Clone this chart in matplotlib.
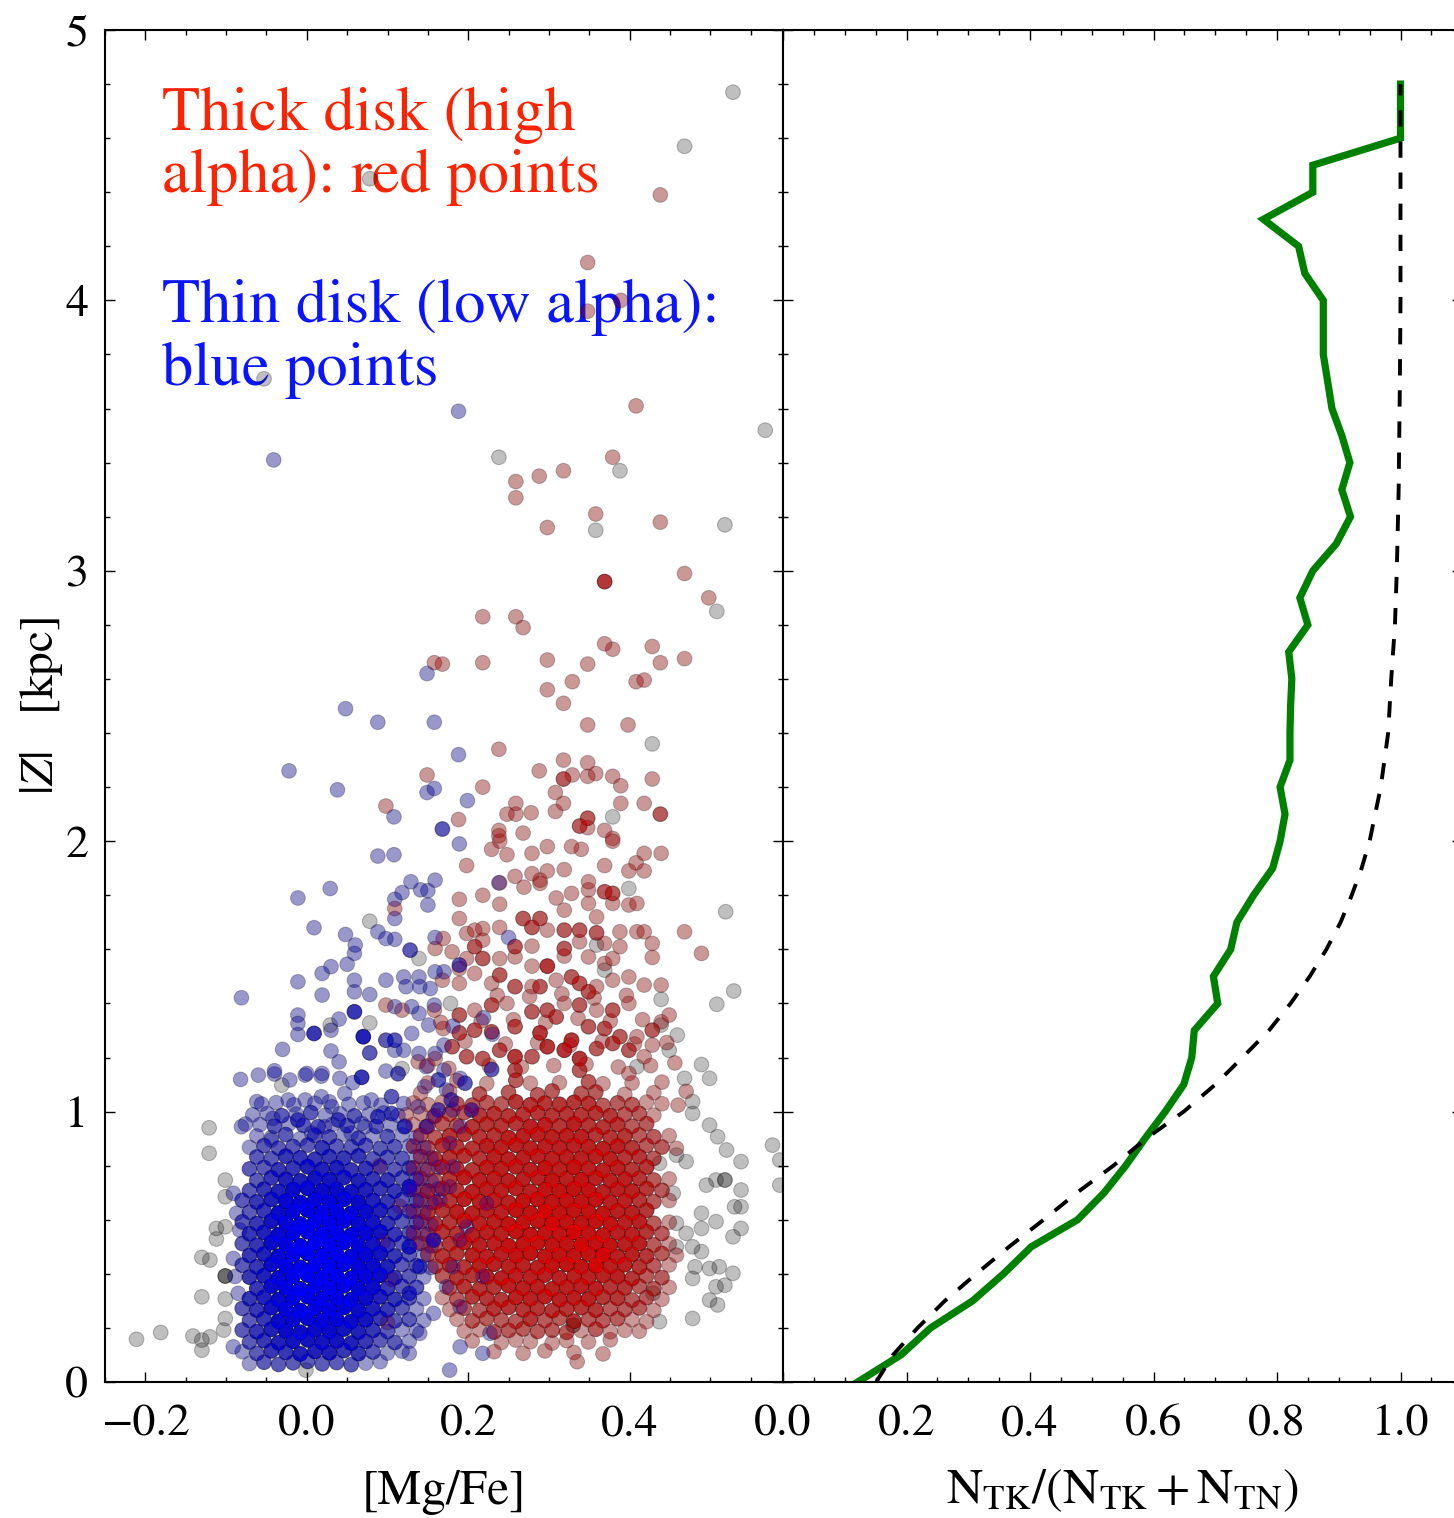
import numpy as np
import matplotlib
matplotlib.use("Agg")
import matplotlib.pyplot as plt
from matplotlib.ticker import MultipleLocator

plt.rcParams['font.family'] = ['STIXGeneral', 'DejaVu Sans']
plt.rcParams['mathtext.fontset'] = 'stix'

# ---------------- left panel: [Mg/Fe] vs |Z| ----------------
# n = number of stars stacked at (about) the same place (read from colour depth)

# thin disk (low alpha) -> blue
thin_x = [
    0.188, -0.041, 0.149, 0.048, 0.088, 0.158, 0.188, -0.022, 0.038, 0.149, 0.158, 0.199, 0.108, 0.168,
    0.189, 0.088, 0.108, 0.129, 0.159, 0.118, 0.141, 0.150, 0.029, -0.011,
    0.109, 0.238, 0.150, 0.109, 0.009, 0.048, 0.088, 0.098, 0.109, 0.060,
    0.059, 0.159, 0.250, 0.050, 0.030, 0.019, -0.011, 0.059, 0.098, 0.120,
    0.139, 0.159, 0.170, 0.189, 0.128, 0.140, 0.153, 0.123, 0.078, 0.059,
    0.019, -0.081, 0.109, 0.130, 0.158, 0.139, 0.059, 0.040, -0.011, -0.011,
    0.009, -0.011, 0.030, 0.070, 0.098, 0.109, 0.130, 0.151, 0.181, 0.219,
    0.230, -0.030, 0.030, 0.040, 0.078, 0.109, 0.120, 0.139, 0.159, 0.170,
    -0.040, 0.000, 0.019, 0.098, 0.113, 0.148, 0.170, 0.229,
    -0.082, -0.060, -0.040, -0.021, -0.002, 0.018, 0.041, 0.057, 0.068, -0.062,
    -0.042, -0.023, -0.002, 0.018, 0.031, 0.047, 0.080, 0.105, 0.138, 0.146,
    0.163, 0.179, 0.196, 0.204, 0.163, -0.081,
    -0.011, 0.006, 0.022, 0.039, 0.055, 0.072, 0.088, 0.105, 0.121, -0.044,
    -0.091, -0.087, -0.083, -0.091, -0.089, -0.085, -0.091,
    0.190, 0.173, 0.181, 0.157, 0.148, 0.190, 0.177, 0.181, 0.177, 0.127,
    0.165, 0.223, 0.198, 0.157, 0.190, 0.127, 0.140, 0.181, 0.218, 0.173,
    0.127, 0.157, 0.190, 0.140, 0.227, 0.190, 0.127, 0.218, 0.177,
    -0.056, -0.038, -0.016, 0.010, 0.028, 0.052, 0.070, 0.092, 0.120,
    -0.067, -0.049, -0.031, -0.013, 0.005, 0.023, 0.041, 0.059, 0.077, 0.095, 0.113,
    -0.058, -0.040, -0.022, -0.004, 0.014, 0.032, 0.050, 0.068, 0.086, 0.104, 0.122, -0.076,
    -0.062, -0.044, -0.026, -0.008, 0.010, 0.028, 0.046, 0.064, 0.082, 0.100, 0.118, 0.136,
    -0.071, -0.053, -0.035, -0.017, 0.001, 0.019, 0.037, 0.055, 0.073, 0.091, 0.109, 0.127, 0.145,
    -0.062, -0.044, -0.026, -0.008, 0.010, 0.028, 0.046, 0.064, 0.082, 0.100, 0.118, 0.136, 0.154,
    -0.071, -0.053, -0.035, -0.017, 0.001, 0.019, 0.037, 0.055, 0.073, 0.091, 0.109, 0.127, 0.145, 0.163,
    -0.062, -0.044, -0.026, -0.008, 0.010, 0.028, 0.046, 0.064, 0.082, 0.100, 0.118, 0.136, 0.154,
    -0.071, -0.053, -0.035, -0.017, 0.001, 0.019, 0.037, 0.055, 0.073, 0.091, 0.109, 0.127, 0.145, 0.163,
    -0.080, -0.062, -0.044, -0.026, -0.008, 0.010, 0.028, 0.046, 0.064, 0.082, 0.100, 0.118, 0.136, 0.154,
    -0.071, -0.053, -0.035, -0.017, 0.001, 0.019, 0.037, 0.055, 0.073, 0.091, 0.109, 0.127, 0.145,
    -0.080, -0.062, -0.044, -0.026, -0.008, 0.010, 0.028, 0.046, 0.064, 0.082, 0.100, 0.118, 0.136, 0.154,
    -0.071, -0.053, -0.035, -0.017, 0.001, 0.019, 0.037, 0.055, 0.073, 0.091, 0.109, 0.127, 0.145,
    -0.080, -0.062, -0.044, -0.026, -0.008, 0.010, 0.028, 0.046, 0.064, 0.082, 0.100, 0.118, 0.136, 0.154,
    -0.071, -0.053, -0.035, -0.017, 0.001, 0.019, 0.037, 0.055, 0.073, 0.091, 0.109, 0.127, 0.145,
    -0.080, -0.062, -0.044, -0.026, -0.008, 0.010, 0.028, 0.046, 0.064, 0.082, 0.100, 0.118, 0.136, 0.154,
    -0.071, -0.053, -0.035, -0.017, 0.001, 0.019, 0.037, 0.055, 0.073, 0.091, 0.109, 0.127, 0.145,
    -0.062, -0.044, -0.026, -0.008, 0.010, 0.028, 0.046, 0.064, 0.082, 0.100, 0.118, 0.136,
    -0.071, -0.053, -0.035, -0.017, 0.001, 0.019, 0.037, 0.055, 0.073, 0.091, 0.109, 0.127, 0.145,
    -0.080, -0.062, -0.044, -0.026, -0.008, 0.010, 0.028, 0.046, 0.064, 0.082, 0.100, 0.118, 0.136,
    -0.071, -0.053, -0.035, -0.017, 0.001, 0.019, 0.037, 0.055, 0.073, 0.091, 0.109, 0.127, 0.145,
    -0.080, -0.062, -0.044, -0.026, -0.008, 0.010, 0.028, 0.046, 0.064, 0.082, 0.100, 0.118, 0.136,
    -0.071, -0.053, -0.035, -0.017, 0.001, 0.019, 0.037, 0.055, 0.073, 0.091, 0.109, 0.127,
    -0.080, -0.062, -0.044, -0.026, -0.008, 0.010, 0.028, 0.046, 0.064, 0.082, 0.100, 0.118,
    -0.071, -0.053, -0.035, -0.017, 0.001, 0.019, 0.037, 0.055, 0.073, 0.091,
]
thin_z = [
    3.59, 3.41, 2.62, 2.49, 2.44, 2.44, 2.32, 2.26, 2.19, 2.18, 2.195, 2.15, 2.09, 2.045,
    1.99, 1.945, 1.95, 1.85, 1.856, 1.81, 1.82, 1.817, 1.825, 1.79,
    1.785, 1.846, 1.764, 1.714, 1.68, 1.655, 1.665, 1.64, 1.637, 1.616,
    1.585, 1.644, 1.644, 1.545, 1.536, 1.511, 1.48, 1.486, 1.486, 1.498,
    1.498, 1.517, 1.517, 1.542, 1.597, 1.462, 1.455, 1.462, 1.433, 1.443,
    1.431, 1.421, 1.388, 1.388, 1.394, 1.363, 1.369, 1.342, 1.357, 1.326,
    1.289, 1.285, 1.301, 1.277, 1.264, 1.264, 1.289, 1.32, 1.316, 1.347,
    1.286, 1.23, 1.224, 1.184, 1.217, 1.227, 1.227, 1.215, 1.215, 1.246,
    1.151, 1.141, 1.141, 1.15, 1.14, 1.166, 1.153, 1.156,
    1.119, 1.135, 1.139, 1.117, 1.135, 1.131, 1.123, 1.107, 1.127, 1.037,
    0.975, 1.043, 1.043, 1.055, 1.018, 1.067, 1.043, 1.055, 1.018, 1.092,
    1.117, 1.043, 1.105, 1.006, 1.006, 0.944,
    0.969, 0.920, 0.944, 0.969, 0.920, 0.944, 0.981, 0.993, 0.944, 0.895,
    0.698, 0.624, 0.562, 0.457, 0.390, 0.328, 0.130,
    1.123, 1.080, 1.006, 0.981, 0.944, 0.944, 0.883, 0.796, 0.722, 0.722,
    0.673, 0.660, 0.574, 0.525, 0.525, 0.500, 0.426, 0.426, 0.390, 0.352,
    0.328, 0.254, 0.278, 0.180, 0.180, 0.130, 0.106, 0.106, 0.044,
    1.028, 1.033, 1.025, 1.031, 1.036, 1.027, 1.032, 1.024, 1.030,
    0.988, 0.993, 0.985, 0.991, 0.996, 0.987, 0.992, 0.984, 0.990, 0.995, 0.986,
    0.952, 0.946, 0.955, 0.949, 0.944, 0.953, 0.948, 0.956, 0.945, 0.951, 0.947, 0.954,
    0.910, 0.904, 0.915, 0.900, 0.912, 0.906, 0.917, 0.902, 0.911, 0.908, 0.914, 0.905,
    0.868, 0.874, 0.865, 0.871, 0.876, 0.866, 0.872, 0.869, 0.875, 0.864, 0.870, 0.873, 0.867,
    0.832, 0.826, 0.835, 0.829, 0.824, 0.833, 0.828, 0.836, 0.825, 0.831, 0.827, 0.834, 0.829,
    0.788, 0.793, 0.785, 0.791, 0.796, 0.787, 0.792, 0.784, 0.790, 0.795, 0.786, 0.791, 0.788, 0.794,
    0.746, 0.755, 0.749, 0.744, 0.753, 0.748, 0.756, 0.745, 0.751, 0.747, 0.754, 0.750, 0.743,
    0.708, 0.713, 0.705, 0.711, 0.716, 0.707, 0.712, 0.704, 0.710, 0.715, 0.706, 0.711, 0.708, 0.714,
    0.672, 0.666, 0.675, 0.669, 0.664, 0.673, 0.668, 0.676, 0.665, 0.671, 0.667, 0.674, 0.670, 0.663,
    0.628, 0.633, 0.625, 0.631, 0.636, 0.627, 0.632, 0.624, 0.630, 0.635, 0.626, 0.631, 0.628,
    0.592, 0.586, 0.595, 0.589, 0.584, 0.593, 0.588, 0.596, 0.585, 0.591, 0.587, 0.594, 0.590, 0.583,
    0.548, 0.553, 0.545, 0.551, 0.556, 0.547, 0.552, 0.544, 0.550, 0.555, 0.546, 0.551, 0.548,
    0.512, 0.506, 0.515, 0.509, 0.504, 0.513, 0.508, 0.516, 0.505, 0.511, 0.507, 0.514, 0.510, 0.503,
    0.468, 0.473, 0.465, 0.471, 0.476, 0.467, 0.472, 0.464, 0.470, 0.475, 0.466, 0.471, 0.468,
    0.432, 0.426, 0.435, 0.429, 0.424, 0.433, 0.428, 0.436, 0.425, 0.431, 0.427, 0.434, 0.430, 0.423,
    0.388, 0.393, 0.385, 0.391, 0.396, 0.387, 0.392, 0.384, 0.390, 0.395, 0.386, 0.391, 0.388,
    0.346, 0.355, 0.349, 0.344, 0.353, 0.348, 0.356, 0.345, 0.351, 0.347, 0.354, 0.350,
    0.308, 0.313, 0.305, 0.311, 0.316, 0.307, 0.312, 0.304, 0.310, 0.315, 0.306, 0.311, 0.308,
    0.272, 0.266, 0.275, 0.269, 0.264, 0.273, 0.268, 0.276, 0.265, 0.271, 0.267, 0.274, 0.270,
    0.228, 0.233, 0.225, 0.231, 0.236, 0.227, 0.232, 0.224, 0.230, 0.235, 0.226, 0.231, 0.228,
    0.192, 0.186, 0.195, 0.189, 0.184, 0.193, 0.188, 0.196, 0.185, 0.191, 0.187, 0.194, 0.190,
    0.148, 0.153, 0.145, 0.151, 0.156, 0.147, 0.152, 0.144, 0.150, 0.155, 0.146, 0.151,
    0.112, 0.106, 0.115, 0.109, 0.104, 0.113, 0.108, 0.116, 0.105, 0.111, 0.107, 0.114,
    0.068, 0.073, 0.065, 0.071, 0.076, 0.067, 0.072, 0.064, 0.070, 0.075,
]
thin_n = [
    1, 1, 1, 1, 1, 1, 1, 1, 1, 1, 1, 1, 1, 2,
    1, 1, 1, 1, 1, 1, 1, 1, 1, 1,
    1, 1, 1, 1, 1, 1, 1, 1, 1, 1,
    1, 1, 1, 1, 1, 1, 1, 1, 1, 1,
    1, 1, 1, 2, 2, 1, 1, 1, 1, 1,
    1, 1, 1, 1, 1, 1, 3, 1, 1, 1,
    3, 1, 1, 4, 2, 2, 1, 1, 1, 1,
    1, 1, 1, 1, 2, 1, 1, 1, 1, 1,
    1, 1, 1, 1, 2, 1, 1, 2,
    1, 1, 1, 1, 1, 1, 1, 1, 3, 1,
    1, 1, 1, 1, 1, 1, 1, 2, 1, 1,
    2, 2, 2, 2, 2, 1,
    2, 1, 1, 2, 1, 1, 2, 2, 2, 1,
    1, 1, 1, 1, 1, 1, 1,
    1, 1, 1, 1, 2, 1, 1, 1, 1, 3,
    1, 1, 1, 3, 1, 3, 2, 1, 1, 1,
    2, 1, 1, 1, 1, 1, 1, 1, 1,
    1, 1, 1, 1, 1, 1, 1, 1, 1,
    1, 1, 2, 1, 2, 1, 1, 2, 1, 1, 1,
    1, 2, 1, 2, 2, 1, 2, 1, 2, 1, 1, 1,
    1, 1, 2, 1, 2, 2, 1, 2, 1, 2, 1, 1,
    1, 2, 2, 2, 2, 3, 2, 2, 2, 2, 2, 1, 1,
    2, 2, 3, 3, 3, 3, 3, 3, 2, 2, 2, 1, 1,
    2, 2, 3, 3, 4, 4, 4, 3, 3, 2, 2, 2, 1, 1,
    2, 3, 4, 4, 5, 5, 4, 4, 3, 3, 2, 2, 1,
    2, 3, 4, 6, 6, 6, 6, 5, 4, 3, 3, 2, 1, 1,
    2, 3, 4, 7, 8, 8, 8, 7, 6, 4, 3, 2, 2, 1,
    2, 3, 6, 8, 9, 10, 9, 8, 6, 4, 3, 2, 1,
    2, 3, 5, 8, 10, 11, 10, 9, 7, 5, 3, 2, 2, 1,
    3, 4, 7, 9, 11, 12, 11, 9, 7, 5, 3, 2, 1,
    2, 3, 6, 9, 11, 12, 12, 10, 8, 5, 3, 2, 1, 1,
    3, 4, 7, 10, 12, 12, 12, 9, 7, 5, 3, 2, 1,
    2, 3, 6, 9, 11, 12, 12, 10, 8, 6, 4, 2, 2, 1,
    3, 4, 7, 10, 12, 12, 11, 9, 8, 6, 3, 2, 1,
    3, 6, 9, 11, 11, 11, 10, 8, 6, 3, 2, 2,
    3, 4, 6, 9, 10, 10, 9, 8, 6, 4, 3, 2, 1,
    2, 3, 5, 8, 9, 9, 9, 8, 6, 4, 3, 2, 1,
    2, 3, 6, 7, 8, 8, 8, 6, 5, 3, 2, 2, 1,
    2, 3, 4, 6, 6, 6, 6, 5, 4, 3, 2, 1, 1,
    2, 3, 4, 5, 5, 5, 5, 4, 3, 2, 2, 1,
    1, 2, 3, 3, 4, 4, 4, 3, 3, 2, 1, 1,
    1, 2, 2, 2, 2, 2, 2, 2, 1, 1,
]

# thick disk (high alpha) -> red
thick_x = [
    0.438, 0.348, 0.389, 0.348, 0.408, 0.379, 0.318, 0.288, 0.259, 0.259,
    0.358, 0.298, 0.438, 0.468, 0.369, 0.498, 0.218, 0.259, 0.268, 0.369,
    0.379, 0.428, 0.158, 0.168, 0.218, 0.298, 0.348, 0.438, 0.468, 0.329,
    0.408, 0.418, 0.298, 0.318, 0.348, 0.398, 0.238, 0.318, 0.348, 0.348,
    0.358, 0.288, 0.329, 0.318, 0.379, 0.149, 0.428, 0.218, 0.389, 0.308,
    0.098, 0.259, 0.318, 0.389, 0.418, 0.438, 0.188, 0.248, 0.259, 0.278,
    0.308, 0.348, 0.338, 0.348, 0.369, 0.238, 0.238, 0.268, 0.379,
    0.229, 0.239, 0.248, 0.279, 0.298, 0.328, 0.340, 0.379, 0.418, 0.439,
    0.198, 0.258, 0.279, 0.289, 0.298, 0.319, 0.349, 0.369, 0.399, 0.408, 0.418,
    0.239, 0.269, 0.289, 0.309, 0.328, 0.349, 0.369, 0.379, 0.399, 0.409,
    0.189, 0.218, 0.239, 0.268, 0.289, 0.319, 0.349, 0.359, 0.379, 0.109,
    0.189, 0.208, 0.218, 0.198, 0.239, 0.279, 0.298, 0.319, 0.338, 0.359, 0.388, 0.409, 0.418, 0.468,
    0.169, 0.159, 0.180, 0.208, 0.218, 0.258, 0.279, 0.319, 0.338, 0.369, 0.388, 0.428, 0.489,
    0.189, 0.198, 0.218, 0.239, 0.258, 0.279, 0.298, 0.319, 0.349, 0.369, 0.379, 0.428,
    0.168, 0.189, 0.208, 0.229, 0.239, 0.258, 0.279, 0.289, 0.309, 0.328, 0.338, 0.349, 0.359, 0.379, 0.399, 0.418, 0.439,
    0.098, 0.118, 0.158, 0.189, 0.208, 0.229, 0.248, 0.279, 0.298, 0.319, 0.338, 0.359, 0.379, 0.399, 0.449,
    0.169, 0.189, 0.208, 0.229, 0.258, 0.289, 0.309, 0.328, 0.349, 0.369, 0.388, 0.409, 0.428, 0.439,
    0.138, 0.159, 0.180, 0.198, 0.218, 0.239, 0.258, 0.279, 0.298, 0.319, 0.338, 0.359, 0.379, 0.399, 0.418, 0.428, 0.258, 0.338, 0.399,
    0.150, 0.176, 0.226, 0.266, 0.306, 0.346, 0.386, 0.426, 0.456,
    0.196, 0.246, 0.286, 0.326, 0.366, 0.406, 0.446,
    0.166, 0.216, 0.256, 0.296, 0.336, 0.376, 0.416,
    0.236, 0.276, 0.316, 0.356, 0.396,
    0.095, 0.105, 0.100, 0.115, 0.090,
    0.150, 0.186, 0.223, 0.259, 0.277, 0.313, 0.349, 0.367, 0.403, 0.440,
    0.141, 0.177, 0.214, 0.250, 0.286, 0.304, 0.340, 0.358, 0.394, 0.430, 0.470,
    0.132, 0.150, 0.168, 0.186, 0.205, 0.223, 0.241, 0.259, 0.277, 0.295, 0.313, 0.331, 0.349, 0.367, 0.385, 0.403, 0.421, 0.440, 0.460,
    0.123, 0.141, 0.159, 0.177, 0.195, 0.214, 0.232, 0.250, 0.268, 0.286, 0.304, 0.322, 0.340, 0.358, 0.376, 0.394, 0.412, 0.430,
    0.132, 0.150, 0.168, 0.186, 0.205, 0.223, 0.241, 0.259, 0.277, 0.295, 0.313, 0.331, 0.349, 0.367, 0.385, 0.403, 0.421,
    0.141, 0.159, 0.177, 0.195, 0.214, 0.232, 0.250, 0.268, 0.286, 0.304, 0.322, 0.340, 0.358, 0.376, 0.394, 0.412, 0.430, 0.449,
    0.132, 0.150, 0.168, 0.186, 0.205, 0.223, 0.241, 0.259, 0.277, 0.295, 0.313, 0.331, 0.349, 0.367, 0.385, 0.403, 0.421, 0.440, 0.458,
    0.141, 0.159, 0.177, 0.195, 0.214, 0.232, 0.250, 0.268, 0.286, 0.304, 0.322, 0.340, 0.358, 0.376, 0.394, 0.412, 0.430,
    0.132, 0.150, 0.168, 0.186, 0.205, 0.223, 0.241, 0.259, 0.277, 0.295, 0.313, 0.331, 0.349, 0.367, 0.385, 0.403, 0.421,
    0.141, 0.159, 0.177, 0.195, 0.214, 0.232, 0.250, 0.268, 0.286, 0.304, 0.322, 0.340, 0.358, 0.376, 0.394, 0.412, 0.430, 0.449,
    0.132, 0.150, 0.168, 0.186, 0.205, 0.223, 0.241, 0.259, 0.277, 0.295, 0.313, 0.331, 0.349, 0.367, 0.385, 0.403, 0.421, 0.440,
    0.141, 0.159, 0.177, 0.195, 0.214, 0.232, 0.250, 0.268, 0.286, 0.304, 0.322, 0.340, 0.358, 0.376, 0.394, 0.412, 0.430, 0.449,
    0.132, 0.150, 0.168, 0.186, 0.205, 0.223, 0.241, 0.259, 0.277, 0.295, 0.313, 0.331, 0.349, 0.367, 0.385, 0.403, 0.421,
    0.141, 0.159, 0.177, 0.195, 0.214, 0.232, 0.250, 0.268, 0.286, 0.304, 0.322, 0.340, 0.358, 0.376, 0.394, 0.412, 0.430, 0.449,
    0.132, 0.150, 0.168, 0.186, 0.205, 0.223, 0.241, 0.259, 0.277, 0.295, 0.313, 0.331, 0.349, 0.367, 0.385, 0.403, 0.421, 0.440,
    0.141, 0.159, 0.177, 0.195, 0.214, 0.232, 0.250, 0.268, 0.286, 0.304, 0.322, 0.340, 0.358, 0.376, 0.394, 0.412, 0.430, 0.449,
    0.150, 0.168, 0.186, 0.205, 0.223, 0.241, 0.259, 0.277, 0.295, 0.313, 0.331, 0.349, 0.367, 0.385, 0.403, 0.421, 0.440, 0.458,
    0.159, 0.177, 0.195, 0.214, 0.232, 0.250, 0.268, 0.286, 0.304, 0.322, 0.340, 0.358, 0.376, 0.394, 0.412, 0.430, 0.449,
    0.168, 0.186, 0.205, 0.223, 0.241, 0.259, 0.277, 0.295, 0.313, 0.331, 0.349, 0.367, 0.385, 0.403, 0.421, 0.440,
    0.177, 0.195, 0.214, 0.232, 0.250, 0.268, 0.286, 0.304, 0.322, 0.340, 0.358, 0.376, 0.394, 0.412, 0.430, 0.449,
    0.168, 0.186, 0.205, 0.223, 0.241, 0.259, 0.277, 0.295, 0.313, 0.331, 0.349, 0.367, 0.385, 0.403, 0.421, 0.440,
    0.177, 0.195, 0.214, 0.232, 0.250, 0.268, 0.286, 0.304, 0.322, 0.340, 0.358, 0.376, 0.394, 0.412, 0.430,
    0.186, 0.205, 0.223, 0.241, 0.259, 0.277, 0.295, 0.313, 0.331, 0.349, 0.367, 0.385, 0.403, 0.421,
    0.195, 0.214, 0.232, 0.250, 0.268, 0.286, 0.304, 0.322, 0.340, 0.358, 0.376, 0.394, 0.412,
    0.205, 0.241, 0.259, 0.277, 0.304, 0.322, 0.349, 0.376,
    0.232, 0.268, 0.295, 0.331, 0.367,
    0.335,
]
thick_z = [
    4.39, 4.14, 4.00, 3.96, 3.61, 3.42, 3.37, 3.35, 3.33, 3.27,
    3.21, 3.16, 3.18, 2.99, 2.96, 2.90, 2.83, 2.83, 2.79, 2.73,
    2.71, 2.72, 2.66, 2.655, 2.66, 2.67, 2.655, 2.66, 2.675, 2.59,
    2.59, 2.596, 2.56, 2.51, 2.43, 2.43, 2.34, 2.30, 2.29, 2.24,
    2.25, 2.26, 2.245, 2.23, 2.24, 2.245, 2.23, 2.20, 2.205, 2.18,
    2.13, 2.14, 2.14, 2.14, 2.14, 2.10, 2.08, 2.10, 2.10, 2.105,
    2.11, 2.085, 2.056, 2.05, 2.04, 2.04, 2.02, 2.03, 2.01,
    1.97, 2.00, 1.95, 1.955, 1.98, 1.98, 1.97, 2.00, 1.955, 1.955,
    1.91, 1.87, 1.88, 1.856, 1.89, 1.895, 1.85, 1.91, 1.89, 1.92, 1.89,
    1.846, 1.83, 1.844, 1.79, 1.807, 1.82, 1.813, 1.807, 1.764, 1.77,
    1.785, 1.80, 1.767, 1.714, 1.714, 1.745, 1.77, 1.72, 1.77, 1.751,
    1.714, 1.671, 1.677, 1.659, 1.681, 1.681, 1.671, 1.671, 1.671, 1.661, 1.665, 1.665, 1.665, 1.665,
    1.64, 1.603, 1.591, 1.61, 1.634, 1.61, 1.612, 1.603, 1.628, 1.622, 1.61, 1.622, 1.585,
    1.529, 1.566, 1.566, 1.566, 1.572, 1.538, 1.538, 1.575, 1.572, 1.548, 1.566, 1.57,
    1.486, 1.474, 1.511, 1.474, 1.505, 1.462, 1.462, 1.462, 1.486, 1.498, 1.474, 1.443, 1.462, 1.486, 1.498, 1.468, 1.468,
    1.394, 1.375, 1.375, 1.357, 1.375, 1.394, 1.40, 1.369, 1.375, 1.40, 1.394, 1.375, 1.375, 1.40, 1.357,
    1.307, 1.291, 1.301, 1.295, 1.314, 1.291, 1.35, 1.264, 1.314, 1.307, 1.277, 1.277, 1.301, 1.332,
    1.184, 1.196, 1.24, 1.203, 1.196, 1.227, 1.203, 1.203, 1.24, 1.227, 1.196, 1.233, 1.252, 1.227, 1.203, 1.246, 1.153, 1.153, 1.141,
    1.17, 1.16, 1.17, 1.165, 1.17, 1.175, 1.165, 1.17, 1.18,
    1.26, 1.25, 1.255, 1.245, 1.26, 1.25, 1.255,
    1.33, 1.335, 1.34, 1.33, 1.345, 1.335, 1.34,
    1.43, 1.425, 1.435, 1.42, 1.43,
    0.52, 0.38, 0.22, 0.65, 0.80,
    1.106, 1.115, 1.104, 1.116, 1.105, 1.107, 1.110, 1.103, 1.106, 1.109,
    1.068, 1.075, 1.065, 1.071, 1.062, 1.076, 1.067, 1.072, 1.064, 1.070, 1.075,
    1.032, 1.026, 1.035, 1.029, 1.024, 1.033, 1.028, 1.036, 1.025, 1.031, 1.027, 1.034, 1.030, 1.023, 1.032, 1.026, 1.035, 1.029, 1.024,
    0.988, 0.993, 0.985, 0.991, 0.996, 0.987, 0.992, 0.984, 0.990, 0.995, 0.986, 0.991, 0.988, 0.994, 0.985, 0.990, 0.993, 0.987,
    0.952, 0.946, 0.955, 0.949, 0.944, 0.953, 0.948, 0.956, 0.945, 0.951, 0.947, 0.954, 0.950, 0.943, 0.952, 0.946, 0.955,
    0.913, 0.905, 0.911, 0.916, 0.907, 0.912, 0.904, 0.910, 0.915, 0.906, 0.911, 0.908, 0.914, 0.905, 0.910, 0.913, 0.907, 0.911,
    0.872, 0.866, 0.875, 0.869, 0.864, 0.873, 0.868, 0.876, 0.865, 0.871, 0.867, 0.874, 0.870, 0.863, 0.872, 0.866, 0.875, 0.869, 0.864,
    0.833, 0.825, 0.831, 0.836, 0.827, 0.832, 0.824, 0.830, 0.835, 0.826, 0.831, 0.828, 0.834, 0.825, 0.830, 0.833, 0.827,
    0.792, 0.786, 0.795, 0.789, 0.784, 0.793, 0.788, 0.796, 0.785, 0.791, 0.787, 0.794, 0.790, 0.783, 0.792, 0.786, 0.795,
    0.753, 0.745, 0.751, 0.756, 0.747, 0.752, 0.744, 0.750, 0.755, 0.746, 0.751, 0.748, 0.754, 0.745, 0.750, 0.753, 0.747, 0.751,
    0.712, 0.706, 0.715, 0.709, 0.704, 0.713, 0.708, 0.716, 0.705, 0.711, 0.707, 0.714, 0.710, 0.703, 0.712, 0.706, 0.715, 0.709,
    0.673, 0.665, 0.671, 0.676, 0.667, 0.672, 0.664, 0.670, 0.675, 0.666, 0.671, 0.668, 0.674, 0.665, 0.670, 0.673, 0.667, 0.671,
    0.632, 0.626, 0.635, 0.629, 0.624, 0.633, 0.628, 0.636, 0.625, 0.631, 0.627, 0.634, 0.630, 0.623, 0.632, 0.626, 0.635,
    0.593, 0.585, 0.591, 0.596, 0.587, 0.592, 0.584, 0.590, 0.595, 0.586, 0.591, 0.588, 0.594, 0.585, 0.590, 0.593, 0.587, 0.591,
    0.552, 0.546, 0.555, 0.549, 0.544, 0.553, 0.548, 0.556, 0.545, 0.551, 0.547, 0.554, 0.550, 0.543, 0.552, 0.546, 0.555, 0.549,
    0.513, 0.505, 0.511, 0.516, 0.507, 0.512, 0.504, 0.510, 0.515, 0.506, 0.511, 0.508, 0.514, 0.505, 0.510, 0.513, 0.507, 0.511,
    0.472, 0.466, 0.475, 0.469, 0.464, 0.473, 0.468, 0.476, 0.465, 0.471, 0.467, 0.474, 0.470, 0.463, 0.472, 0.466, 0.475, 0.469,
    0.428, 0.433, 0.425, 0.431, 0.436, 0.427, 0.432, 0.424, 0.430, 0.435, 0.426, 0.431, 0.428, 0.434, 0.425, 0.430, 0.433,
    0.392, 0.386, 0.395, 0.389, 0.384, 0.393, 0.388, 0.396, 0.385, 0.391, 0.387, 0.394, 0.390, 0.383, 0.392, 0.386,
    0.348, 0.353, 0.345, 0.351, 0.356, 0.347, 0.352, 0.344, 0.350, 0.355, 0.346, 0.351, 0.348, 0.354, 0.345, 0.350,
    0.312, 0.306, 0.315, 0.309, 0.304, 0.313, 0.308, 0.316, 0.305, 0.311, 0.307, 0.314, 0.310, 0.303, 0.312, 0.306,
    0.268, 0.273, 0.265, 0.271, 0.276, 0.267, 0.272, 0.264, 0.270, 0.275, 0.266, 0.271, 0.268, 0.274, 0.265,
    0.232, 0.226, 0.235, 0.229, 0.224, 0.233, 0.228, 0.236, 0.225, 0.231, 0.227, 0.234, 0.230, 0.223,
    0.188, 0.193, 0.185, 0.191, 0.196, 0.187, 0.192, 0.184, 0.190, 0.195, 0.186, 0.191, 0.188,
    0.152, 0.146, 0.155, 0.149, 0.144, 0.153, 0.148, 0.156,
    0.112, 0.106, 0.115, 0.109, 0.104,
    0.075,
]
thick_n = [
    1, 1, 1, 1, 1, 1, 1, 1, 1, 1,
    1, 1, 1, 1, 3, 1, 1, 1, 1, 1,
    1, 1, 1, 1, 1, 1, 1, 1, 1, 1,
    1, 1, 1, 1, 1, 1, 1, 1, 1, 1,
    1, 1, 1, 2, 1, 1, 1, 1, 1, 1,
    1, 1, 1, 1, 1, 2, 1, 1, 1, 1,
    1, 2, 2, 1, 1, 1, 1, 1, 1,
    1, 1, 1, 1, 1, 1, 1, 1, 1, 1,
    1, 1, 1, 1, 1, 1, 1, 1, 1, 1, 1,
    1, 1, 1, 1, 1, 1, 2, 2, 1, 1,
    1, 1, 1, 2, 2, 1, 1, 1, 1, 1,
    1, 1, 1, 1, 1, 2, 1, 2, 2, 2, 1, 1, 1, 1,
    1, 1, 1, 2, 1, 2, 1, 2, 1, 1, 1, 1, 1,
    1, 1, 2, 1, 1, 1, 3, 1, 1, 1, 1, 1,
    1, 1, 1, 1, 2, 2, 1, 2, 1, 2, 2, 2, 1, 1, 1, 1, 1,
    1, 1, 1, 2, 1, 2, 1, 2, 2, 1, 2, 1, 2, 1, 1,
    1, 2, 2, 2, 2, 3, 2, 3, 2, 2, 2, 1, 2, 1,
    1, 1, 2, 2, 2, 2, 3, 2, 3, 3, 3, 2, 2, 2, 1, 1, 2, 2, 1,
    1, 1, 1, 1, 1, 1, 1, 1, 1,
    1, 1, 1, 1, 1, 1, 1,
    1, 1, 1, 1, 1, 1, 1,
    1, 1, 1, 1, 1,
    1, 1, 1, 1, 1,
    1, 1, 1, 2, 1, 1, 2, 1, 1, 1,
    1, 1, 2, 2, 2, 2, 2, 2, 1, 1, 1,
    1, 1, 1, 2, 2, 2, 2, 3, 3, 3, 3, 3, 3, 2, 2, 2, 1, 1, 1,
    1, 1, 2, 2, 2, 3, 3, 3, 3, 3, 3, 3, 3, 3, 3, 2, 2, 1,
    1, 2, 2, 2, 3, 3, 3, 3, 4, 4, 3, 4, 3, 3, 3, 2, 2,
    2, 2, 3, 3, 3, 3, 4, 4, 4, 4, 4, 4, 3, 3, 3, 2, 2, 1,
    2, 2, 3, 3, 3, 4, 4, 4, 4, 4, 4, 4, 4, 4, 4, 3, 2, 2, 1,
    2, 3, 3, 3, 3, 4, 4, 4, 4, 4, 4, 4, 4, 4, 3, 3, 2,
    2, 2, 3, 3, 3, 4, 4, 4, 4, 5, 4, 5, 4, 4, 4, 3, 3,
    2, 2, 3, 4, 4, 4, 4, 4, 4, 5, 4, 5, 4, 4, 4, 3, 2, 1,
    2, 3, 3, 3, 4, 4, 4, 4, 4, 5, 5, 5, 5, 4, 4, 4, 3, 2,
    2, 3, 3, 4, 4, 4, 4, 5, 5, 5, 5, 5, 5, 4, 4, 3, 2, 1,
    2, 3, 3, 4, 4, 4, 4, 5, 5, 7, 5, 5, 5, 5, 4, 4, 3,
    2, 3, 3, 4, 4, 4, 5, 5, 5, 7, 5, 5, 5, 5, 4, 4, 2, 1,
    2, 2, 3, 3, 4, 4, 4, 5, 5, 5, 5, 7, 5, 5, 4, 4, 3, 2,
    2, 2, 3, 4, 4, 4, 5, 5, 5, 5, 5, 7, 5, 5, 4, 4, 2, 1,
    2, 3, 3, 4, 4, 4, 5, 5, 5, 5, 5, 5, 7, 4, 4, 3, 2, 1,
    2, 3, 3, 4, 4, 4, 4, 4, 5, 5, 5, 7, 4, 4, 3, 2, 1,
    2, 3, 3, 4, 4, 4, 4, 4, 4, 4, 4, 4, 4, 3, 2, 2,
    2, 3, 3, 3, 4, 4, 4, 4, 4, 4, 4, 3, 3, 2, 2, 1,
    1, 2, 3, 3, 3, 4, 4, 4, 4, 4, 4, 3, 3, 2, 2, 1,
    1, 2, 2, 3, 3, 3, 3, 3, 3, 3, 3, 2, 2, 2, 1,
    1, 2, 2, 2, 2, 3, 2, 2, 3, 2, 2, 2, 1, 1,
    1, 1, 2, 2, 2, 2, 2, 2, 1, 2, 1, 1, 1,
    1, 1, 1, 1, 1, 1, 1, 1,
    1, 1, 1, 1, 1,
    1,
]

# stars in neither group -> grey
other_x = [
    0.528, 0.468, 0.078, -0.053, 0.568, 0.238, 0.388, 0.358, 0.518, 0.508, 0.428, 0.379,
    0.078, 0.139, 0.178, 0.078, 0.029, 0.118, 0.359, 0.369, 0.399, 0.519, 0.529, 0.508, 0.459, 0.449, 0.439, 0.439, 0.489, 0.409,
    -0.121, -0.121, -0.101, -0.101, -0.112, -0.112, -0.101, -0.130, -0.120, -0.101, -0.130,
    -0.101, -0.101, -0.211, -0.181, -0.141, -0.130, -0.130, -0.120, -0.103, -0.001, -0.031,
    0.468, 0.499, 0.478, 0.478, 0.499, 0.509, 0.520, 0.507, 0.518, 0.538,
    0.538, 0.495, 0.530, 0.538, 0.507, 0.538, 0.528, 0.489, 0.489, 0.458,
    0.470, 0.478, 0.489, 0.458, 0.481, 0.499, 0.511, 0.528, 0.507, 0.518,
    0.499, 0.509, 0.478, 0.429, 0.437, 0.478, 0.577, 0.586, 0.586, 0.458,
    0.470, 0.437, 0.454, 0.330,
]
other_z = [
    4.77, 4.57, 4.45, 3.71, 3.52, 3.42, 3.37, 3.15, 3.17, 2.85, 2.36, 2.09,
    1.704, 1.566, 1.40, 1.328, 1.32, 1.159, 1.616, 1.523, 1.825, 1.739, 1.446, 1.397, 1.283, 1.227, 1.32, 1.415, 1.174, 1.166,
    0.940, 0.846, 0.747, 0.685, 0.568, 0.529, 0.574, 0.461, 0.451, 0.392, 0.315,
    0.307, 0.235, 0.158, 0.183, 0.170, 0.118, 0.155, 0.167, 0.192, 0.044, 1.098,
    1.123, 1.123, 1.037, 0.993, 0.950, 0.907, 0.858, 0.747, 0.747, 0.815,
    0.710, 0.728, 0.648, 0.648, 0.593, 0.568, 0.537, 0.624, 0.568, 0.587,
    0.550, 0.500, 0.482, 0.500, 0.426, 0.420, 0.426, 0.402, 0.352, 0.358,
    0.303, 0.285, 0.383, 0.328, 0.223, 0.235, 0.876, 0.821, 0.728, 0.839,
    0.815, 0.809, 0.698, 0.210,
]
other_n = [
    1, 1, 1, 1, 1, 1, 1, 1, 1, 1, 1, 1,
    1, 1, 1, 1, 1, 1, 1, 1, 1, 1, 1, 1, 1, 1, 1, 1, 1, 1,
    1, 1, 1, 1, 1, 1, 1, 1, 1, 3, 1,
    1, 1, 1, 1, 1, 1, 1, 1, 1, 1, 1,
    1, 1, 1, 1, 1, 1, 1, 1, 2, 1,
    1, 1, 1, 1, 1, 1, 1, 1, 1, 1,
    1, 1, 1, 1, 1, 1, 1, 1, 1, 1,
    1, 1, 1, 1, 1, 1, 1, 1, 1, 1,
    1, 1, 1, 2,
]

# ---------------- right panel: thick-disk fraction vs |Z| ----------------
frac_z = [0.0, 0.1, 0.2, 0.3, 0.4, 0.5, 0.6, 0.7, 0.8, 0.9,
          1.0, 1.1, 1.2, 1.3, 1.4, 1.5, 1.6, 1.7, 1.8, 1.9,
          2.0, 2.1, 2.2, 2.3, 2.4, 2.5, 2.6, 2.7, 2.8, 2.9,
          3.0, 3.1, 3.2, 3.3, 3.4, 3.5, 3.6, 3.7, 3.8, 3.9,
          4.0, 4.1, 4.2, 4.3, 4.4, 4.5, 4.6, 4.7, 4.8]
frac_obs = [0.121, 0.191, 0.239, 0.307, 0.357, 0.402, 0.477, 0.520, 0.555, 0.586,
            0.619, 0.649, 0.662, 0.666, 0.704, 0.697, 0.725, 0.735, 0.762, 0.793,
            0.805, 0.813, 0.805, 0.821, 0.821, 0.822, 0.824, 0.819, 0.850, 0.837,
            0.858, 0.896, 0.919, 0.905, 0.918, 0.905, 0.889, 0.882, 0.875, 0.875,
            0.875, 0.845, 0.835, 0.778, 0.858, 0.858, 1.0, 1.0, 1.0]
model_z = [0.0, 0.1, 0.2, 0.3, 0.4, 0.5, 0.6, 0.7, 0.8, 0.9,
           1.0, 1.1, 1.2, 1.3, 1.4, 1.5, 1.6, 1.7, 1.8, 1.9,
           2.0, 2.2, 2.4, 2.6, 2.8, 3.0, 3.3, 3.7, 4.0, 4.8]
model_frac = [0.151, 0.178, 0.218, 0.262, 0.313, 0.366, 0.422, 0.476, 0.535, 0.588,
              0.649, 0.700, 0.744, 0.787, 0.822, 0.853, 0.880, 0.903, 0.921, 0.937,
              0.950, 0.968, 0.980, 0.985, 0.991, 0.994, 0.997, 0.999, 1.0, 1.0]


def _clean(x, z, n):
    m = min(len(x), len(z), len(n))
    return np.asarray(x[:m], float), np.asarray(z[:m], float), np.asarray(n[:m], float)


def rgba(rgb, base_alpha, n):
    out = np.zeros((len(n), 4))
    out[:, :3] = rgb
    out[:, 3] = 1.0 - (1.0 - base_alpha) ** n
    return out


tx, tz, tn = _clean(thin_x, thin_z, thin_n)
kx, kz, kn = _clean(thick_x, thick_z, thick_n)
ox, oz, on = _clean(other_x, other_z, other_n)

fig = plt.figure(figsize=(14.54, 15.18), dpi=100)
bottom, height = 1 - 1382 / 1518, (1382 - 30) / 1518
ax1 = fig.add_axes([105 / 1454, bottom, (783 - 105) / 1454, height])
ax2 = fig.add_axes([783 / 1454, bottom, 1.1 * 617.5 / 1454, height])

S = 112
all_x = np.concatenate([ox, kx, tx])
all_z = np.concatenate([oz, kz, tz])
all_n = np.concatenate([on, kn, tn])
under = rgba((0, 0, 0), 0.25, all_n)
ax1.scatter(all_x, all_z, s=S, c=under, edgecolors=under, linewidths=0.8, zorder=2)
ax1.scatter(kx, kz, s=S, c=rgba((1, 0, 0), 0.2, kn), edgecolors='none', zorder=3)
ax1.scatter(tx, tz, s=S, c=rgba((0, 0, 1), 0.2, tn), edgecolors='none', zorder=4)

txt_kw = dict(fontsize=45, ha='left', va='baseline', zorder=1)
ax1.text(-0.179, 4.63, 'Thick disk (high', color='#ff2200', **txt_kw)
ax1.text(-0.179, 4.40, 'alpha): red points', color='#ff2200', **txt_kw)
ax1.text(-0.179, 3.92, 'Thin disk (low alpha):', color='#0a14ff', **txt_kw)
ax1.text(-0.179, 3.687, 'blue points', color='#0a14ff', **txt_kw)

ax2.plot(frac_obs, frac_z, color='green', lw=5.2, solid_joinstyle='miter', zorder=2)
ax2.plot(model_frac, model_z, color='black', lw=2.8, linestyle=(0, (4.2, 3.8)), zorder=3)

ax1.set_xlim(-0.25, 0.59)
ax2.set_xlim(0.0, 1.1)
for ax in (ax1, ax2):
    ax.set_ylim(0, 5)
    ax.xaxis.set_major_locator(MultipleLocator(0.2))
    ax.xaxis.set_minor_locator(MultipleLocator(0.05))
    ax.yaxis.set_major_locator(MultipleLocator(1))
    ax.yaxis.set_minor_locator(MultipleLocator(0.2))
    ax.tick_params(which='both', direction='in', top=True, right=True, width=1.0)
    ax.tick_params(which='major', length=7, labelsize=33)
    ax.tick_params(which='minor', length=3.5)
    ax.tick_params(axis='x', pad=16)
    ax.tick_params(axis='y', pad=12)
    for sp in ax.spines.values():
        sp.set_linewidth(1.5)
ax2.tick_params(labelleft=False)

ax1.set_xlabel('[Mg/Fe]', fontsize=35.5, labelpad=18)
ax2.set_xlabel(r'$\mathrm{N_{TK}/(N_{TK}+N_{TN})}$', fontsize=36, labelpad=16)
ax1.set_ylabel(r'$|Z|$   [kpc]', fontsize=34, labelpad=0)

fig.savefig('out.png', dpi=100, facecolor='white')
